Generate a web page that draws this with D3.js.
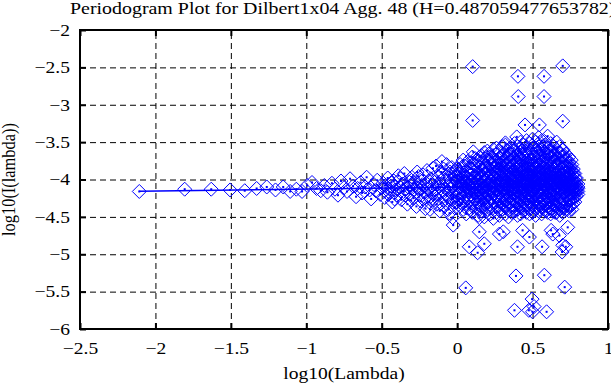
<!DOCTYPE html>
<html>
<head>
<meta charset="utf-8">
<script src="https://cdn.jsdelivr.net/npm/d3@7"></script>
<style>
  body { margin: 0; background: #fff; }
  svg { display: block; }
</style>
</head>
<body>
<div id="chart"></div>
<script>
// periodogram values (log10 lambda, log10 I)
const lowFreq = [
  [-2.107, -4.16], [-1.806, -4.13], [-1.630, -4.13], [-1.505, -4.14], [-1.408, -4.15],
  [-1.329, -4.12], [-1.262, -4.10], [-1.204, -4.14], [-1.153, -4.10], [-1.107, -4.16],
  [-1.066, -4.13], [-1.028, -4.16], [-0.994, -4.08], [-0.962, -4.04], [-0.932, -4.12],
  [-0.904, -4.15]
];

const band = [
  [-0.88, -4.08], [-0.86, -4.17], [-0.83, -4.05], [-0.81, -4.13], [-0.79, -4.21],
  [-0.77, -4.02], [-0.75, -4.11], [-0.73, -4.16], [-0.71, -3.99], [-0.69, -4.09],
  [-0.67, -4.23], [-0.66, -4.12], [-0.64, -4.04], [-0.63, -4.18], [-0.61, -4.10],
  [-0.60, -3.97], [-0.58, -4.14], [-0.57, -4.26], [-0.55, -4.07], [-0.54, -4.15],
  [-0.53, -4.01], [-0.51, -4.20], [-0.50, -4.11], [-0.49, -4.05], [-0.48, -4.24],
  [-0.47, -4.13], [-0.46, -3.98], [-0.45, -4.17], [-0.44, -4.09], [-0.43, -4.30],
  [-0.42, -4.02], [-0.41, -4.14], [-0.40, -4.21], [-0.39, -3.95], [-0.38, -4.10],
  [-0.37, -4.27], [-0.36, -4.06], [-0.355, -4.16], [-0.35, -3.92], [-0.34, -4.12],
  [-0.33, -4.33], [-0.32, -4.03], [-0.315, -4.19], [-0.31, -4.08], [-0.30, -3.97],
  [-0.29, -4.25], [-0.285, -4.14], [-0.28, -4.04], [-0.27, -4.36], [-0.265, -3.90],
  [-0.26, -4.11], [-0.25, -4.20], [-0.245, -4.01], [-0.24, -4.29], [-0.23, -4.07],
  [-0.225, -3.94], [-0.22, -4.16], [-0.21, -4.39], [-0.205, -4.05], [-0.20, -3.88],
  [-0.195, -4.22], [-0.19, -4.12], [-0.18, -4.40], [-0.175, -3.99], [-0.17, -4.18],
  [-0.165, -4.08], [-0.16, -3.85], [-0.155, -4.27], [-0.15, -4.14], [-0.145, -4.03],
  [-0.14, -3.82], [-0.135, -4.33], [-0.13, -4.20], [-0.125, -3.96], [-0.12, -4.10],
  [-0.115, -4.42], [-0.11, -4.06], [-0.105, -3.90], [-0.10, -4.24], [-0.095, -4.15],
  [-0.09, -3.86], [-0.085, -4.36], [-0.08, -4.01], [-0.075, -4.19], [-0.07, -3.80],
  [-0.065, -4.28], [-0.06, -4.09], [-0.055, -3.93], [-0.05, -4.45], [-0.045, -4.13],
  [-0.04, -4.02], [-0.035, -3.84], [-0.03, -4.31], [-0.025, -4.21], [-0.02, -3.97],
  [-0.015, -4.38], [-0.01, -4.07], [-0.005, -3.89],
  [-0.475, -4.08], [-0.455, -4.20], [-0.435, -4.04], [-0.415, -4.26], [-0.395, -4.13],
  [-0.375, -3.99], [-0.345, -4.21], [-0.325, -4.10], [-0.305, -4.28], [-0.295, -4.05],
  [-0.275, -4.17], [-0.255, -3.96], [-0.235, -4.12], [-0.215, -4.25], [-0.185, -4.02],
  [-0.185, -4.30], [-0.168, -4.13], [-0.148, -4.22], [-0.128, -4.06], [-0.108, -4.32],
  [-0.088, -3.98], [-0.078, -4.12], [-0.068, -4.22], [-0.048, -3.90], [-0.038, -4.26],
  [-0.028, -4.08], [-0.018, -4.16], [-0.008, -3.95], [-0.003, -4.30], [-0.058, -4.40]
];

// dense part of the cloud: one column of values per log10 lambda position
const colX = [0.00, 0.01, 0.02, 0.03, 0.04, 0.05, 0.06, 0.07, 0.08, 0.09,
  0.10, 0.11, 0.12, 0.13, 0.14, 0.15, 0.16, 0.17, 0.18, 0.19,
  0.20, 0.21, 0.22, 0.23, 0.24, 0.25, 0.26, 0.27, 0.28, 0.29,
  0.30, 0.31, 0.32, 0.33, 0.34, 0.35, 0.36, 0.37, 0.38, 0.39,
  0.40, 0.41, 0.42, 0.43, 0.44, 0.45, 0.46, 0.47, 0.48, 0.49,
  0.50, 0.51, 0.52, 0.53, 0.54, 0.55, 0.56, 0.57, 0.58, 0.59,
  0.60, 0.61, 0.62, 0.63, 0.64, 0.65, 0.66, 0.67, 0.68, 0.69,
  0.70, 0.71, 0.72, 0.73, 0.74, 0.75, 0.76, 0.77, 0.78, 0.79, 0.80];
const colY = [
  [-4.12, -3.86, -4.30, -4.02, -4.22, -3.95],
  [-4.00, -4.18, -3.90, -4.26],
  [-4.05, -4.35, -3.80, -4.18, -4.10, -3.92],
  [-4.10, -3.84, -4.32, -4.04, -3.96],
  [-4.25, -3.98, -4.08, -3.74, -4.40, -4.15],
  [-3.94, -4.16, -4.06, -4.36, -3.82],
  [-3.88, -4.20, -4.04, -4.32, -3.96, -4.12, -4.46],
  [-4.08, -3.76, -4.24, -3.98, -4.14],
  [-4.14, -3.78, -4.28, -4.00, -3.92, -4.38, -4.07],
  [-3.86, -4.20, -4.04, -4.40, -3.94, -4.12],
  [-3.70, -4.22, -4.10, -3.86, -4.44, -4.02, -4.16],
  [-4.12, -3.80, -4.30, -3.98, -4.06, -3.90],
  [-4.06, -3.82, -4.34, -3.96, -4.18, -4.26, -3.72, -4.11],
  [-3.92, -4.22, -4.02, -3.74, -4.14, -4.38],
  [-3.90, -4.14, -4.48, -4.03, -3.76, -4.22, -4.30, -4.08],
  [-4.06, -3.84, -4.26, -3.98, -4.16, -3.70, -4.40],
  [-4.20, -3.68, -4.00, -4.36, -3.88, -4.12, -4.42, -3.95],
  [-3.96, -4.12, -3.78, -4.32, -4.04, -3.88, -4.22],
  [-3.84, -4.10, -4.26, -3.64, -4.04, -4.50, -4.16, -3.93, -4.32],
  [-4.10, -3.72, -4.24, -3.92, -4.02, -4.38, -3.84, -4.16],
  [-4.08, -3.74, -4.40, -3.98, -4.20, -3.62, -4.14, -4.30, -3.88],
  [-3.86, -4.14, -3.98, -4.30, -3.76, -4.06, -4.20, -3.66],
  [-3.80, -4.24, -4.02, -4.46, -3.92, -4.12, -3.70, -4.34, -4.06],
  [-4.02, -3.80, -4.26, -3.94, -4.12, -3.70, -4.36, -4.08],
  [-4.16, -3.60, -3.96, -4.28, -4.05, -4.52, -3.85, -4.20, -4.10, -3.76],
  [-3.90, -4.18, -3.74, -4.04, -4.30, -3.84, -4.10, -3.98, -4.40],
  [-3.90, -4.36, -4.12, -3.66, -4.00, -4.24, -4.44, -3.82, -4.15, -3.58],
  [-4.08, -3.78, -4.22, -3.92, -4.00, -4.34, -3.68, -4.14, -3.86],
  [-4.04, -3.72, -4.30, -3.94, -4.18, -4.48, -3.62, -4.08, -3.86, -4.26],
  [-3.96, -4.16, -3.82, -4.28, -4.06, -3.72, -4.38, -3.90, -4.02],
  [-3.78, -4.14, -4.40, -3.56, -4.02, -4.22, -3.88, -4.32, -3.68, -4.10, -3.97],
  [-4.04, -3.74, -4.20, -3.92, -4.10, -3.84, -4.32, -3.66, -4.00, -4.14],
  [-4.20, -3.64, -3.92, -4.46, -4.06, -3.80, -4.28, -4.14, -3.54, -4.00, -4.36],
  [-3.88, -4.12, -4.02, -3.70, -4.26, -3.96, -4.18, -3.80, -4.06, -4.36],
  [-3.86, -4.10, -4.50, -3.70, -4.24, -3.96, -3.60, -4.16, -4.38, -4.04, -3.78, -4.30],
  [-4.00, -3.76, -4.22, -3.92, -4.08, -3.68, -4.30, -3.84, -4.14, -3.98, -4.40],
  [-4.08, -3.58, -4.34, -3.90, -4.20, -3.74, -4.44, -4.00, -3.84, -4.12, -3.66, -4.26],
  [-3.82, -4.16, -4.04, -3.72, -4.26, -3.94, -4.10, -3.62, -4.34, -3.88, -4.02],
  [-3.94, -4.28, -3.62, -4.12, -4.42, -3.80, -4.02, -3.52, -4.18, -4.36, -3.72, -4.06],
  [-4.06, -3.86, -4.18, -3.76, -4.30, -3.96, -4.00, -3.68, -4.12, -4.38, -3.90],
  [-4.16, -3.68, -4.04, -4.48, -3.86, -4.24, -3.56, -3.98, -4.32, -3.76, -4.10, -4.40],
  [-3.92, -4.10, -3.80, -4.24, -4.02, -3.70, -4.16, -3.88, -4.32, -3.60, -4.06],
  [-3.82, -4.20, -3.50, -4.08, -4.36, -3.92, -4.14, -3.64, -4.46, -4.00, -3.72, -4.28],
  [-4.08, -3.74, -4.20, -3.94, -4.12, -3.84, -4.28, -3.66, -4.00, -4.36, -3.90],
  [-4.02, -3.60, -4.30, -3.88, -4.18, -4.42, -3.70, -4.10, -3.54, -3.96, -4.24, -4.38],
  [-3.86, -4.14, -4.00, -3.72, -4.22, -3.92, -4.06, -3.58, -4.30, -3.80, -4.40],
  [-3.76, -4.12, -4.44, -3.48, -4.00, -4.26, -3.86, -3.62, -4.20, -4.06, -4.34, -3.94],
  [-4.02, -3.78, -4.18, -3.90, -4.10, -3.68, -4.26, -3.96, -3.84, -4.34, -4.06],
  [-4.22, -3.66, -3.94, -4.40, -3.78, -4.08, -3.52, -4.30, -4.14, -3.88, -4.46, -4.02],
  [-3.94, -4.16, -3.74, -4.04, -4.24, -3.86, -3.62, -4.12, -4.38, -3.98, -3.80],
  [-3.90, -4.34, -3.58, -4.16, -3.46, -4.04, -4.26, -3.74, -4.44, -3.98, -4.10, -3.82],
  [-4.10, -3.82, -4.20, -3.96, -3.70, -4.30, -4.02, -3.88, -4.14, -3.58, -4.42],
  [-4.06, -3.70, -4.38, -3.84, -4.20, -3.50, -4.12, -4.48, -3.96, -3.62, -4.28, -4.00],
  [-3.90, -4.08, -3.76, -4.26, -4.00, -3.64, -4.16, -3.84, -4.36, -3.96, -4.04],
  [-3.80, -4.16, -3.44, -4.30, -3.98, -4.42, -3.68, -4.06, -3.90, -4.24, -3.56, -4.12],
  [-4.06, -3.72, -4.22, -3.92, -4.12, -3.80, -4.32, -3.60, -4.00, -3.88, -4.40],
  [-4.10, -3.60, -4.36, -3.86, -4.02, -3.48, -4.22, -4.46, -3.76, -4.14, -3.94, -4.32],
  [-3.84, -4.18, -4.02, -3.68, -4.28, -3.94, -4.08, -3.76, -4.36, -3.56, -4.14],
  [-3.72, -4.26, -3.96, -3.54, -4.40, -4.08, -3.84, -4.18, -3.64, -4.34, -4.00, -3.90],
  [-4.00, -3.78, -4.24, -3.90, -4.10, -3.66, -4.34, -3.86, -4.04, -4.42, -3.96],
  [-4.18, -3.66, -4.04, -3.42, -4.30, -3.92, -4.44, -3.78, -4.12, -3.58, -4.24, -4.00],
  [-3.92, -4.14, -3.74, -4.04, -4.26, -3.84, -3.62, -4.18, -3.98, -4.38, -4.08],
  [-3.88, -4.32, -3.52, -4.10, -3.98, -4.46, -3.70, -4.20, -3.82, -4.06, -4.38, -3.62],
  [-4.10, -3.80, -4.20, -3.94, -4.02, -3.70, -4.30, -3.88, -4.14, -3.60, -4.42],
  [-4.04, -3.76, -4.28, -3.56, -4.14, -4.42, -3.90, -3.68, -4.22, -4.00, -3.84, -4.34],
  [-3.86, -4.06, -3.76, -4.24, -3.98, -4.16, -3.66, -4.34, -3.92, -4.04, -4.44],
  [-3.96, -4.20, -3.60, -4.36, -3.80, -4.08, -3.50, -4.28, -4.44, -3.72, -4.12, -3.92],
  [-4.02, -3.82, -4.18, -3.90, -4.28, -3.72, -4.08, -3.96, -4.38, -3.64, -4.12],
  [-4.12, -3.64, -4.40, -3.88, -4.02, -3.56, -4.24, -3.76, -4.32, -3.96, -4.16, -4.48],
  [-3.94, -4.12, -3.78, -4.22, -4.02, -3.86, -4.32, -3.70, -4.06, -4.42, -3.98],
  [-3.84, -4.26, -3.70, -4.06, -4.38, -3.60, -3.94, -4.18, -4.44, -3.78, -4.10, -4.00],
  [-4.06, -3.88, -4.16, -3.76, -4.26, -3.96, -4.04, -3.68, -4.36, -4.12, -3.84],
  [-4.08, -3.72, -4.30, -3.90, -4.16, -3.66, -4.40, -4.00, -3.82, -4.22, -4.34, -3.96],
  [-3.98, -4.10, -3.82, -4.22, -4.00, -3.74, -4.32, -4.14, -3.90, -4.40],
  [-3.92, -4.20, -3.78, -4.36, -4.04, -3.86, -4.28, -4.12, -3.70, -4.42, -3.98],
  [-4.08, -3.90, -4.18, -3.84, -4.28, -4.02, -3.96, -4.36, -4.12],
  [-4.14, -3.88, -4.26, -4.00, -3.80, -4.34, -4.08, -3.94, -4.20, -4.40],
  [-4.00, -4.14, -3.92, -4.24, -4.06, -3.86, -4.32, -4.18],
  [-4.04, -4.18, -3.92, -4.30, -4.10, -3.98, -4.24, -4.12],
  [-4.08, -4.16, -3.98, -4.22, -4.04, -4.12],
  [-4.12, -4.06, -4.20, -4.16, -4.10]
];

const outliers = [
  [0.103, -2.49], [0.70, -2.48], [0.403, -2.62], [0.576, -2.62], [0.405, -2.89],
  [0.576, -2.89], [0.103, -3.21], [0.45, -3.27], [0.545, -3.27], [0.70, -3.22],
  [0.107, -3.63], [-0.101, -3.76], [0.32, -3.51], [0.395, -3.43], [0.578, -3.49],
  [0.70, -3.61], [0.756, -3.74],
  [-0.03, -4.51], [-0.026, -4.61], [0.147, -4.51], [0.147, -4.70], [0.08, -4.90],
  [0.136, -4.98], [0.18, -4.86], [0.28, -4.73], [0.306, -4.70], [0.40, -4.90],
  [0.434, -4.68], [0.479, -4.77], [0.563, -4.90], [0.623, -4.68], [0.634, -4.73],
  [0.678, -4.75], [0.70, -4.88], [0.696, -4.97], [0.72, -4.90], [0.733, -4.64],
  [0.39, -5.29], [0.578, -5.28], [0.713, -5.44], [0.057, -5.45], [0.497, -5.60],
  [0.38, -5.75], [0.475, -5.75], [0.50, -5.77], [0.593, -5.77], [0.51, -5.70]
];

// least squares fit drawn over the points
const fitX = [-2.107, 0.798];
const fitY = [-4.158, -4.083];

const xTicks = [-2.5, -2, -1.5, -1, -0.5, 0, 0.5, 1];
const yTicks = [-6, -5.5, -5, -4.5, -4, -3.5, -3, -2.5, -2];
const title = 'Periodogram Plot for Dilbert1x04 Agg. 48 (H=0.487059477653782)';

const margin = {top: 30, right: 3, bottom: 56, left: 80};
const width = 611 - margin.left - margin.right;
const height = 385 - margin.top - margin.bottom;
const blue = '#0000ff';
const serif = '"Liberation Serif", "Times New Roman", Times, "DejaVu Serif", serif';
const fontSize = 16.4;
const stretch = 1.19; // the original figure was stretched sideways

let points = lowFreq.concat(band, outliers);
colX.forEach((x, i) => {
  colY[i].forEach(y => points.push([x, y]));
});

let x = d3.scaleLinear().domain([-2.5, 1]).range([0, width]);
let y = d3.scaleLinear().domain([-6, -2]).range([height, 0]);

let svg = d3.select('#chart').append('svg')
  .attr('width', 611)
  .attr('height', 385)
  .attr('font-family', serif);

let g = svg.append('g')
  .attr('transform', 'translate(' + margin.left + ',' + margin.top + ')');

// dashed grid
g.append('g')
  .attr('transform', 'translate(0,' + height + ')')
  .call(d3.axisBottom(x).tickValues(xTicks).tickSize(-height).tickFormat(''))
  .call(s => s.select('.domain').remove())
  .selectAll('line')
  .attr('stroke', '#000')
  .attr('stroke-dasharray', '6,4');

g.append('g')
  .call(d3.axisLeft(y).tickValues(yTicks).tickSize(-width).tickFormat(''))
  .call(s => s.select('.domain').remove())
  .selectAll('line')
  .attr('stroke', '#000')
  .attr('stroke-dasharray', '6,4');

// diamonds with a dot in the middle
let marks = g.append('g');
marks.selectAll('path')
  .data(points)
  .enter().append('path')
  .attr('d', 'M0,-7L7,0L0,7L-7,0Z')
  .attr('transform', d => 'translate(' + x(d[0]) + ',' + y(d[1]) + ')')
  .attr('fill', 'none')
  .attr('stroke', blue)
  .attr('stroke-width', 1);

marks.selectAll('rect')
  .data(points)
  .enter().append('rect')
  .attr('x', d => x(d[0]) - 1)
  .attr('y', d => y(d[1]) - 1)
  .attr('width', 2)
  .attr('height', 2)
  .attr('fill', blue);

g.append('path')
  .datum(fitX.map((v, i) => [v, fitY[i]]))
  .attr('fill', 'none')
  .attr('stroke', blue)
  .attr('stroke-width', 1.5)
  .attr('d', d3.line().x(d => x(d[0])).y(d => y(d[1])));

// axes: ticks point inwards on all four sides
let fmt = d3.format('');
let axes = [
  {axis: d3.axisBottom(x).tickValues(xTicks).tickFormat(fmt).tickPadding(13), at: [0, height], side: 'bottom'},
  {axis: d3.axisLeft(y).tickValues(yTicks).tickFormat(fmt).tickPadding(10), at: [0, 0], side: 'left'},
  {axis: d3.axisTop(x).tickValues(xTicks).tickFormat(''), at: [0, 0], side: 'top'},
  {axis: d3.axisRight(y).tickValues(yTicks).tickFormat(''), at: [width, 0], side: 'right'}
];
axes.forEach(a => {
  let ax = g.append('g')
    .attr('transform', 'translate(' + a.at[0] + ',' + a.at[1] + ')')
    .call(a.axis.tickSizeInner(-6).tickSizeOuter(0))
    .attr('font-family', serif)
    .attr('font-size', fontSize);
  ax.select('.domain').remove();
  ax.selectAll('line').attr('stroke', '#000').attr('stroke-width', 2);
  let labels = ax.selectAll('text').attr('fill', '#000')
    .attr('transform', 'scale(' + stretch + ',1)');
  if (a.side === 'left') labels.attr('x', -10 / stretch);
});

g.append('rect')
  .attr('width', width)
  .attr('height', height)
  .attr('fill', 'none')
  .attr('stroke', '#000')
  .attr('stroke-width', 2);

// the title runs off the right edge in the original as well
svg.append('text')
  .attr('transform', 'translate(70,14) scale(1.215,1)')
  .attr('font-size', fontSize)
  .text(title);

svg.append('text')
  .attr('transform', 'translate(' + (margin.left + width / 2) + ',379) scale(' + stretch + ',1)')
  .attr('text-anchor', 'middle')
  .attr('font-size', fontSize)
  .text('log10(Lambda)');

svg.append('text')
  .attr('transform', 'translate(15,' + (margin.top + height / 2) + ') rotate(-90) scale(1,' + stretch + ')')
  .attr('text-anchor', 'middle')
  .attr('font-size', fontSize)
  .text('log10(I(lambda))');
</script>
</body>
</html>
